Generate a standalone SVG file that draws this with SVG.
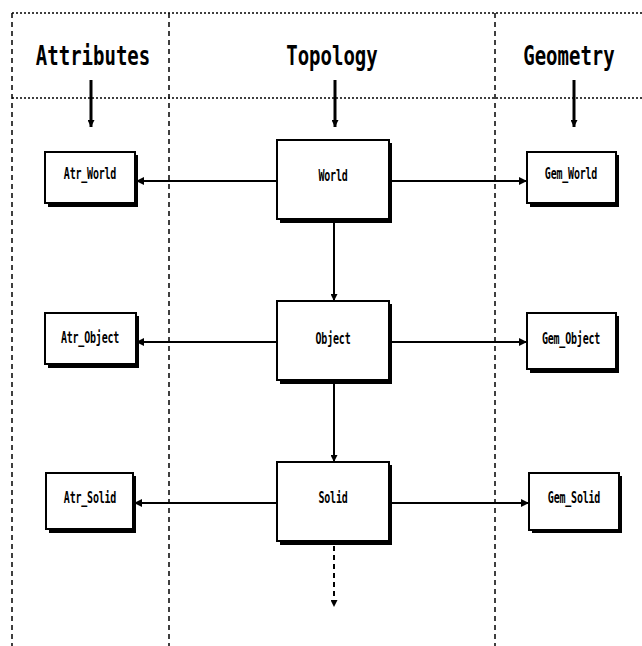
<svg xmlns="http://www.w3.org/2000/svg" width="642" height="646" viewBox="0 0 642 646">
<style>
.bg{fill:#fff}
.grid-h{stroke:#000;stroke-width:1.5;stroke-dasharray:2 2;fill:none}
.grid-v{stroke:#000;stroke-width:1.5;stroke-dasharray:5 4;fill:none}
.head{font-family:"DejaVu Sans Mono",monospace;font-weight:bold;font-size:19px;fill:#000;text-anchor:middle}
.lbl{font-family:"DejaVu Sans Mono",monospace;font-weight:bold;font-size:10px;fill:#000;text-anchor:middle;letter-spacing:-0.2px}
.box{fill:#fff;stroke:#000;stroke-width:2}
.shadow{fill:#000}
.conn{stroke:#000;stroke-width:2;fill:none}
.thick{stroke:#000;stroke-width:3;fill:none}
.dash{stroke:#000;stroke-width:2;fill:none;stroke-dasharray:5 4}
</style>
<defs>
<marker id="ah" viewBox="0 0 10 10" refX="10" refY="5" markerWidth="8" markerHeight="8" markerUnits="userSpaceOnUse" orient="auto">
<path d="M0,0 L10,5 L0,10 z" fill="#000"/>
</marker>
<marker id="ahn" viewBox="0 0 10 10" refX="10" refY="5" markerWidth="11" markerHeight="7" markerUnits="userSpaceOnUse" orient="auto">
<path d="M0,0 L10,5 L0,10 z" fill="#000"/>
</marker>
</defs>
<rect class="bg" x="0" y="0" width="642" height="646"/>
<g id="grid">
<line class="grid-h" x1="12" y1="13" x2="642" y2="13"/>
<line class="grid-h" x1="12" y1="98" x2="642" y2="98"/>
<line class="grid-v" x1="12" y1="13" x2="12" y2="646"/>
<line class="grid-v" x1="169" y1="13" x2="169" y2="646"/>
<line class="grid-v" x1="495" y1="13" x2="495" y2="646"/>
</g>
<g id="headings">
<text class="head" transform="translate(93,65) scale(1,1.4)">Attributes</text>
<text class="head" transform="translate(332,65) scale(1,1.4)">Topology</text>
<text class="head" transform="translate(569,65) scale(1,1.4)">Geometry</text>
</g>
<g id="connectors">
<line class="thick" x1="91" y1="80" x2="91" y2="127" marker-end="url(#ahn)"/>
<line class="thick" x1="335" y1="80" x2="335" y2="127" marker-end="url(#ahn)"/>
<line class="thick" x1="574" y1="80" x2="574" y2="127" marker-end="url(#ahn)"/>
<line class="conn" x1="277" y1="181" x2="136" y2="181" marker-end="url(#ah)"/>
<line class="conn" x1="389" y1="181" x2="527" y2="181" marker-end="url(#ah)"/>
<line class="conn" x1="277" y1="342" x2="136" y2="342" marker-end="url(#ah)"/>
<line class="conn" x1="389" y1="342" x2="527" y2="342" marker-end="url(#ah)"/>
<line class="conn" x1="277" y1="503" x2="134" y2="503" marker-end="url(#ah)"/>
<line class="conn" x1="389" y1="503" x2="529" y2="503" marker-end="url(#ah)"/>
<line class="conn" x1="334" y1="219" x2="334" y2="301" marker-end="url(#ahn)"/>
<line class="conn" x1="334" y1="380" x2="334" y2="462" marker-end="url(#ahn)"/>
<line class="dash" x1="334" y1="546" x2="334" y2="607" marker-end="url(#ahn)"/>
</g>
<g id="Atr_World">
<rect class="shadow" x="48" y="155" width="90" height="52"/>
<rect class="box" x="45" y="152" width="90" height="51"/>
<text class="lbl" transform="translate(90,179) scale(1,1.5)">Atr_World</text>
</g>
<g id="World">
<rect class="shadow" x="280" y="143" width="112" height="80"/>
<rect class="box" x="277" y="140" width="112" height="79"/>
<text class="lbl" transform="translate(333,181) scale(1,1.5)">World</text>
</g>
<g id="Gem_World">
<rect class="shadow" x="530" y="155" width="89" height="52"/>
<rect class="box" x="527" y="152" width="89" height="51"/>
<text class="lbl" transform="translate(571,179) scale(1,1.5)">Gem_World</text>
</g>
<g id="Atr_Object">
<rect class="shadow" x="48" y="316" width="91" height="52"/>
<rect class="box" x="45" y="313" width="91" height="51"/>
<text class="lbl" transform="translate(90,343) scale(1,1.5)">Atr_Object</text>
</g>
<g id="Object">
<rect class="shadow" x="280" y="304" width="112" height="80"/>
<rect class="box" x="277" y="301" width="112" height="79"/>
<text class="lbl" transform="translate(333,344) scale(1,1.5)">Object</text>
</g>
<g id="Gem_Object">
<rect class="shadow" x="530" y="316" width="89" height="57"/>
<rect class="box" x="527" y="313" width="89" height="56"/>
<text class="lbl" transform="translate(571,344) scale(1,1.5)">Gem_Object</text>
</g>
<g id="Atr_Solid">
<rect class="shadow" x="49" y="476" width="87" height="57"/>
<rect class="box" x="46" y="473" width="87" height="56"/>
<text class="lbl" transform="translate(90,503) scale(1,1.5)">Atr_Solid</text>
</g>
<g id="Solid">
<rect class="shadow" x="280" y="465" width="112" height="80"/>
<rect class="box" x="277" y="462" width="112" height="79"/>
<text class="lbl" transform="translate(333,503) scale(1,1.5)">Solid</text>
</g>
<g id="Gem_Solid">
<rect class="shadow" x="532" y="476" width="90" height="57"/>
<rect class="box" x="529" y="473" width="90" height="57"/>
<text class="lbl" transform="translate(574,503) scale(1,1.5)">Gem_Solid</text>
</g>
</svg>
